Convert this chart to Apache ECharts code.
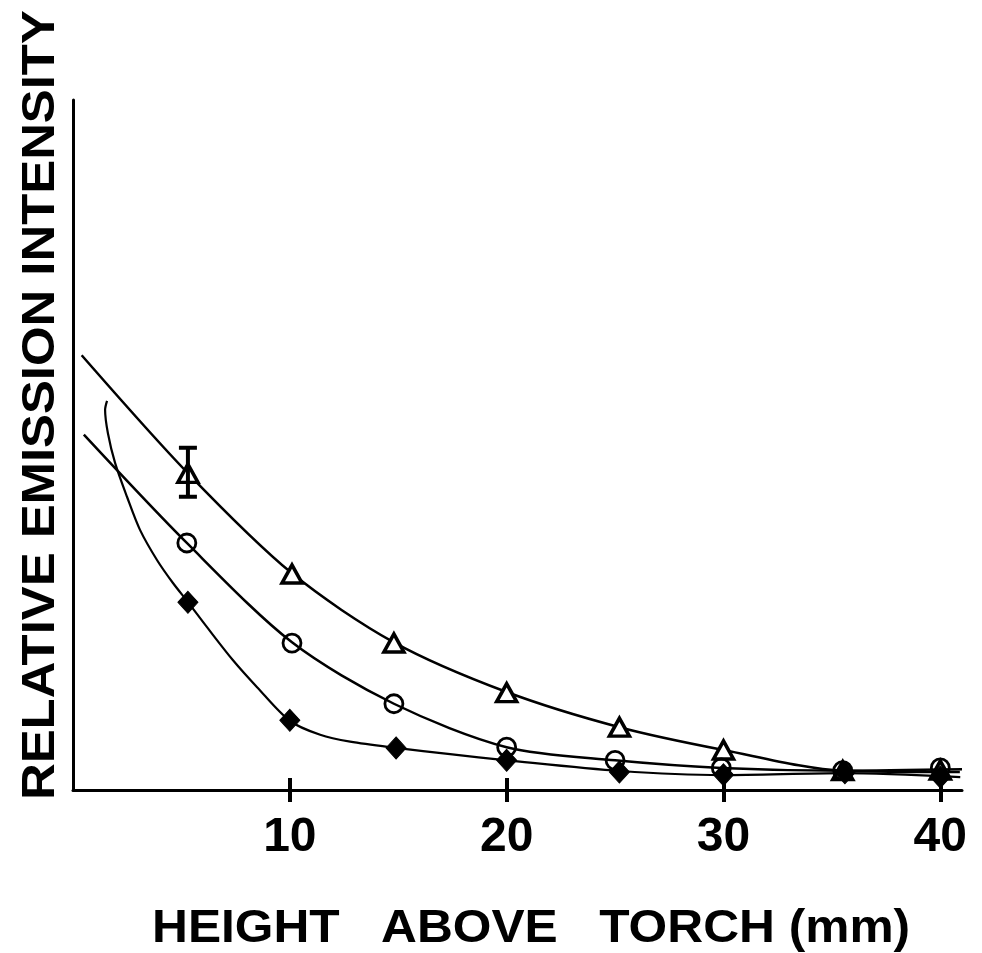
<!DOCTYPE html>
<html>
<head>
<meta charset="utf-8">
<script src="https://cdn.jsdelivr.net/npm/echarts@6/dist/echarts.min.js"></script>
<style>html,body{margin:0;padding:0;background:#fff;}#c{width:982px;height:953px;}</style>
</head>
<body>
<div id="c"></div>
<script>
// Tick labels
const xTicks = [10, 20, 30, 40];

// Triangle series (markers)
const triX = [5.3, 10.1, 14.8, 20.0, 25.2, 30.0, 35.5, 40.0];
const triY = [45.9, 31.3, 21.3, 14.1, 9.1, 5.8, 2.8, 2.9];
// Circle series (markers)
const cirX = [5.25, 10.1, 14.8, 20.0, 25.0, 29.9, 35.5, 40.0];
const cirY = [35.8, 21.3, 12.5, 6.2, 4.3, 3.2, 2.8, 3.2];
// Diamond series (markers)
const diaX = [5.3, 10.0, 14.9, 20.0, 25.2, 30.0, 35.6, 40.0];
const diaY = [27.2, 10.1, 6.1, 4.3, 2.6, 2.2, 2.5, 1.9];

// Hand-drawn fitted curves
const triCurveX = [0.4, 5.3, 10.1, 14.8, 20.0, 25.2, 30.0, 35.5, 40.9];
const triCurveY = [63.0, 45.9, 31.4, 21.4, 14.2, 9.1, 5.8, 2.8, 2.6];
const cirCurveX = [0.5, 5.25, 10.1, 14.8, 20.0, 25.0, 29.9, 35.5, 41.0];
const cirCurveY = [51.5, 35.8, 21.4, 12.5, 6.2, 4.3, 3.2, 2.8, 3.0];
const diaCurveX = [1.57, 1.48, 1.61, 1.94, 2.49, 3.09, 3.88, 4.61, 5.31, 6.18, 7.38, 8.49, 10.01, 11.4, 12.78, 14.9, 17.39, 20.02, 25.24, 29.94, 35.52, 40.92];
const diaCurveY = [56.4, 55.1, 51.7, 47.4, 42.5, 37.7, 33.3, 30.0, 27.2, 23.6, 18.8, 14.9, 10.0, 8.0, 7.0, 6.1, 5.2, 4.3, 2.75, 2.17, 2.46, 1.88];

// Error bar on first triangle
const errX = [5.3];
const errLow = [42.5];
const errHigh = [49.6];

const zip = (a, b) => a.map((v, i) => [v, b[i]]);
const FONT = '"Liberation Sans", Arial, Helvetica, sans-serif';

const chart = echarts.init(document.getElementById('c'), null, {renderer: 'canvas'});
chart.setOption({
  animation: false,
  backgroundColor: '#ffffff',
  grid: {left: 73, right: 20, top: 100, bottom: 163, containLabel: false},
  xAxis: [{
    type: 'value', min: 0, max: 41,
    axisLine: {show: true, lineStyle: {color: '#000', width: 3}},
    axisTick: {show: true, customValues: xTicks, length: 12, lineStyle: {color: '#000', width: 4}},
    axisLabel: {show: true, customValues: xTicks, margin: 24, color: '#000', fontSize: 48, fontWeight: 'bold', fontFamily: FONT},
    splitLine: {show: false}
  }, {
    type: 'value', min: 0, max: 41, position: 'bottom',
    axisLine: {show: false},
    axisTick: {show: true, inside: true, customValues: xTicks, length: 12, lineStyle: {color: '#000', width: 4}},
    axisLabel: {show: false},
    splitLine: {show: false}
  }],
  yAxis: {
    type: 'value', min: 0, max: 100,
    axisLine: {show: true, lineStyle: {color: '#000', width: 3}},
    axisTick: {show: false},
    axisLabel: {show: false},
    splitLine: {show: false}
  },
  graphic: [{
    type: 'text', x: 152, y: 906, scaleX: 1.08,
    style: {text: 'HEIGHT   ABOVE   TORCH (mm)', fill: '#000', font: 'bold 46px ' + FONT, textVerticalAlign: 'top'}
  }, {
    type: 'text', x: 18, y: 800, rotation: Math.PI / 2, scaleX: 1.105,
    style: {text: 'RELATIVE EMISSION INTENSITY', fill: '#000', font: 'bold 46px ' + FONT, textAlign: 'left', textVerticalAlign: 'top'}
  }],
  series: [
    {type: 'line', data: zip(triCurveX, triCurveY), smooth: 0.3, showSymbol: false, lineStyle: {color: '#000', width: 2.5}, z: 2},
    {type: 'line', data: zip(cirCurveX, cirCurveY), smooth: 0.3, showSymbol: false, lineStyle: {color: '#000', width: 2.5}, z: 2},
    {type: 'line', data: zip(diaCurveX, diaCurveY), smooth: 0.3, showSymbol: false, lineStyle: {color: '#000', width: 2.2}, z: 2},
    {type: 'scatter', data: zip(triX, triY), symbol: 'triangle', symbolSize: [20, 18],
      itemStyle: {color: '#fff', borderColor: '#000', borderWidth: 3.5, opacity: 1}, z: 3},
    {type: 'scatter', data: zip(cirX, cirY), symbol: 'circle', symbolSize: 18,
      itemStyle: {color: 'rgba(255,255,255,0)', borderColor: '#000', borderWidth: 2.8, opacity: 1}, z: 4},
    {type: 'scatter', data: zip(diaX, diaY), symbol: 'diamond', symbolSize: [20, 22],
      itemStyle: {color: '#000', borderColor: '#000', borderWidth: 1, opacity: 1}, z: 5},
    {type: 'custom', z: 6,
      data: errX.map((x, i) => [x, errLow[i], errHigh[i]]),
      renderItem: function (params, api) {
        const lo = api.coord([api.value(0), api.value(1)]);
        const hi = api.coord([api.value(0), api.value(2)]);
        const w = 9;
        const st = {stroke: '#000', lineWidth: 4};
        return {type: 'group', children: [
          {type: 'line', shape: {x1: hi[0], y1: hi[1], x2: lo[0], y2: lo[1]}, style: st},
          {type: 'line', shape: {x1: hi[0] - w, y1: hi[1], x2: hi[0] + w, y2: hi[1]}, style: st},
          {type: 'line', shape: {x1: lo[0] - w, y1: lo[1], x2: lo[0] + w, y2: lo[1]}, style: st}
        ]};
      }
    }
  ]
});
</script>
</body>
</html>
